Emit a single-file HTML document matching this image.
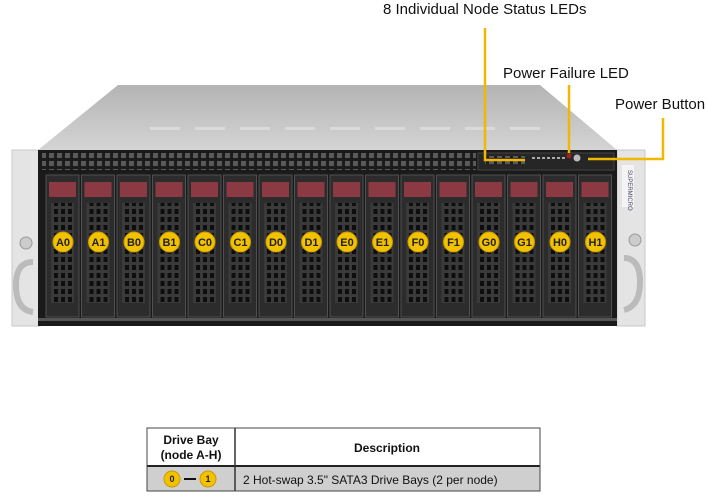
<!DOCTYPE html>
<html><head><meta charset="utf-8"><style>
html,body{margin:0;padding:0;background:#fff;width:706px;height:500px;overflow:hidden;font-family:"Liberation Sans",Arial,sans-serif}
</style></head><body>
<svg width="706" height="500" viewBox="0 0 706 500" xmlns="http://www.w3.org/2000/svg" font-family="Liberation Sans, Arial, sans-serif">
<defs>
<linearGradient id="top" x1="0" y1="0" x2="0" y2="1"><stop offset="0" stop-color="#b4b4b4"/><stop offset="1" stop-color="#d4d4d4"/></linearGradient>
<pattern id="vent" width="8" height="8" patternUnits="userSpaceOnUse"><rect width="8" height="8" fill="#1c1c1c"/><rect x="1" y="1" width="5" height="5" fill="#5a5a5a"/></pattern>
<pattern id="grid" width="7" height="8" patternUnits="userSpaceOnUse"><rect width="7" height="8" fill="#3a3a3a"/><rect x="1" y="1" width="4" height="5" fill="#0e0e0e"/></pattern>
</defs>
<polygon points="118,85 540,85 617,150 38,150" fill="url(#top)"/>
<g fill="#e2e2e2" opacity="0.7">
<rect x="150" y="127" width="30" height="3"/><rect x="195" y="127" width="30" height="3"/><rect x="240" y="127" width="30" height="3"/><rect x="285" y="127" width="30" height="3"/><rect x="330" y="127" width="30" height="3"/><rect x="375" y="127" width="30" height="3"/><rect x="420" y="127" width="30" height="3"/><rect x="465" y="127" width="30" height="3"/><rect x="510" y="127" width="30" height="3"/>
</g>
<rect x="12" y="150" width="28" height="176" fill="#e4e4e4" stroke="#c8c8c8"/>
<rect x="617" y="150" width="28" height="176" fill="#e4e4e4" stroke="#c8c8c8"/>
<circle cx="26" cy="243" r="6" fill="#ccc" stroke="#999"/>
<circle cx="635" cy="240" r="6" fill="#ccc" stroke="#999"/>
<path d="M33 262 Q16 262 16 285 Q16 310 33 312" fill="none" stroke="#bbb" stroke-width="6"/>
<path d="M624 258 Q640 258 640 282 Q640 306 624 310" fill="none" stroke="#bbb" stroke-width="6"/>
<rect x="622" y="165" width="12" height="42" fill="#f4f4f4"/>
<text x="628" y="170" font-size="6" fill="#446" transform="rotate(90 628 170)">SUPERMICRO</text>
<rect x="38" y="150" width="579" height="176" fill="#1a1a1a"/>
<rect x="42" y="153" width="434" height="17" fill="url(#vent)"/>
<rect x="478" y="153" width="136" height="17" fill="#262626" stroke="#444"/>
<rect x="485" y="156" width="40" height="8" fill="url(#vent)"/>
<g fill="#aaa"><rect x="532" y="157" width="3" height="2"/><rect x="537" y="157" width="3" height="2"/><rect x="542" y="157" width="3" height="2"/><rect x="547" y="157" width="3" height="2"/><rect x="552" y="157" width="3" height="2"/><rect x="557" y="157" width="3" height="2"/><rect x="562" y="157" width="3" height="2"/></g>
<circle cx="569" cy="156" r="2.5" fill="#a02020"/>
<circle cx="577" cy="158" r="3.5" fill="#bbb"/>
<rect x="38" y="318" width="579" height="3" fill="#555"/>
<g font-size="11" font-weight="bold" text-anchor="middle" fill="#222">
<g transform="translate(46,0)"><rect x="0" y="175" width="33" height="142" fill="#2c2c2c" stroke="#505050"/><rect x="3" y="182" width="27" height="15" fill="#8b3a44"/><rect x="5" y="203" width="23" height="100" fill="url(#grid)"/><circle cx="17" cy="242" r="10" fill="#f2c200" stroke="#c99a00"/><text x="17" y="246">A0</text></g>
<g transform="translate(81.5,0)"><rect x="0" y="175" width="33" height="142" fill="#2c2c2c" stroke="#505050"/><rect x="3" y="182" width="27" height="15" fill="#8b3a44"/><rect x="5" y="203" width="23" height="100" fill="url(#grid)"/><circle cx="17" cy="242" r="10" fill="#f2c200" stroke="#c99a00"/><text x="17" y="246">A1</text></g>
<g transform="translate(117,0)"><rect x="0" y="175" width="33" height="142" fill="#2c2c2c" stroke="#505050"/><rect x="3" y="182" width="27" height="15" fill="#8b3a44"/><rect x="5" y="203" width="23" height="100" fill="url(#grid)"/><circle cx="17" cy="242" r="10" fill="#f2c200" stroke="#c99a00"/><text x="17" y="246">B0</text></g>
<g transform="translate(152.5,0)"><rect x="0" y="175" width="33" height="142" fill="#2c2c2c" stroke="#505050"/><rect x="3" y="182" width="27" height="15" fill="#8b3a44"/><rect x="5" y="203" width="23" height="100" fill="url(#grid)"/><circle cx="17" cy="242" r="10" fill="#f2c200" stroke="#c99a00"/><text x="17" y="246">B1</text></g>
<g transform="translate(188,0)"><rect x="0" y="175" width="33" height="142" fill="#2c2c2c" stroke="#505050"/><rect x="3" y="182" width="27" height="15" fill="#8b3a44"/><rect x="5" y="203" width="23" height="100" fill="url(#grid)"/><circle cx="17" cy="242" r="10" fill="#f2c200" stroke="#c99a00"/><text x="17" y="246">C0</text></g>
<g transform="translate(223.5,0)"><rect x="0" y="175" width="33" height="142" fill="#2c2c2c" stroke="#505050"/><rect x="3" y="182" width="27" height="15" fill="#8b3a44"/><rect x="5" y="203" width="23" height="100" fill="url(#grid)"/><circle cx="17" cy="242" r="10" fill="#f2c200" stroke="#c99a00"/><text x="17" y="246">C1</text></g>
<g transform="translate(259,0)"><rect x="0" y="175" width="33" height="142" fill="#2c2c2c" stroke="#505050"/><rect x="3" y="182" width="27" height="15" fill="#8b3a44"/><rect x="5" y="203" width="23" height="100" fill="url(#grid)"/><circle cx="17" cy="242" r="10" fill="#f2c200" stroke="#c99a00"/><text x="17" y="246">D0</text></g>
<g transform="translate(294.5,0)"><rect x="0" y="175" width="33" height="142" fill="#2c2c2c" stroke="#505050"/><rect x="3" y="182" width="27" height="15" fill="#8b3a44"/><rect x="5" y="203" width="23" height="100" fill="url(#grid)"/><circle cx="17" cy="242" r="10" fill="#f2c200" stroke="#c99a00"/><text x="17" y="246">D1</text></g>
<g transform="translate(330,0)"><rect x="0" y="175" width="33" height="142" fill="#2c2c2c" stroke="#505050"/><rect x="3" y="182" width="27" height="15" fill="#8b3a44"/><rect x="5" y="203" width="23" height="100" fill="url(#grid)"/><circle cx="17" cy="242" r="10" fill="#f2c200" stroke="#c99a00"/><text x="17" y="246">E0</text></g>
<g transform="translate(365.5,0)"><rect x="0" y="175" width="33" height="142" fill="#2c2c2c" stroke="#505050"/><rect x="3" y="182" width="27" height="15" fill="#8b3a44"/><rect x="5" y="203" width="23" height="100" fill="url(#grid)"/><circle cx="17" cy="242" r="10" fill="#f2c200" stroke="#c99a00"/><text x="17" y="246">E1</text></g>
<g transform="translate(401,0)"><rect x="0" y="175" width="33" height="142" fill="#2c2c2c" stroke="#505050"/><rect x="3" y="182" width="27" height="15" fill="#8b3a44"/><rect x="5" y="203" width="23" height="100" fill="url(#grid)"/><circle cx="17" cy="242" r="10" fill="#f2c200" stroke="#c99a00"/><text x="17" y="246">F0</text></g>
<g transform="translate(436.5,0)"><rect x="0" y="175" width="33" height="142" fill="#2c2c2c" stroke="#505050"/><rect x="3" y="182" width="27" height="15" fill="#8b3a44"/><rect x="5" y="203" width="23" height="100" fill="url(#grid)"/><circle cx="17" cy="242" r="10" fill="#f2c200" stroke="#c99a00"/><text x="17" y="246">F1</text></g>
<g transform="translate(472,0)"><rect x="0" y="175" width="33" height="142" fill="#2c2c2c" stroke="#505050"/><rect x="3" y="182" width="27" height="15" fill="#8b3a44"/><rect x="5" y="203" width="23" height="100" fill="url(#grid)"/><circle cx="17" cy="242" r="10" fill="#f2c200" stroke="#c99a00"/><text x="17" y="246">G0</text></g>
<g transform="translate(507.5,0)"><rect x="0" y="175" width="33" height="142" fill="#2c2c2c" stroke="#505050"/><rect x="3" y="182" width="27" height="15" fill="#8b3a44"/><rect x="5" y="203" width="23" height="100" fill="url(#grid)"/><circle cx="17" cy="242" r="10" fill="#f2c200" stroke="#c99a00"/><text x="17" y="246">G1</text></g>
<g transform="translate(543,0)"><rect x="0" y="175" width="33" height="142" fill="#2c2c2c" stroke="#505050"/><rect x="3" y="182" width="27" height="15" fill="#8b3a44"/><rect x="5" y="203" width="23" height="100" fill="url(#grid)"/><circle cx="17" cy="242" r="10" fill="#f2c200" stroke="#c99a00"/><text x="17" y="246">H0</text></g>
<g transform="translate(578.5,0)"><rect x="0" y="175" width="33" height="142" fill="#2c2c2c" stroke="#505050"/><rect x="3" y="182" width="27" height="15" fill="#8b3a44"/><rect x="5" y="203" width="23" height="100" fill="url(#grid)"/><circle cx="17" cy="242" r="10" fill="#f2c200" stroke="#c99a00"/><text x="17" y="246">H1</text></g>
</g>
<g fill="none" stroke="#f0b800" stroke-width="2.5">
<polyline points="485,28 485,160 525,160"/>
<polyline points="569,85 569,153"/>
<polyline points="663,118 663,159 588,159"/>
</g>
<g font-size="15" fill="#111">
<text x="383" y="14">8 Individual  Node Status LEDs</text>
<text x="503" y="78">Power Failure LED</text>
<text x="615" y="109">Power Button</text>
</g>
<rect x="147" y="428" width="393" height="63" fill="#fff" stroke="#555" stroke-width="1"/>
<rect x="147" y="467" width="393" height="24" fill="#cfcfcf"/>
<line x1="147" y1="466" x2="540" y2="466" stroke="#222" stroke-width="2"/>
<line x1="235" y1="428" x2="235" y2="491" stroke="#333" stroke-width="1.5"/>
<rect x="147" y="428" width="393" height="63" fill="none" stroke="#444" stroke-width="1"/>
<g font-size="12" font-weight="bold" fill="#111" text-anchor="middle">
<text x="191" y="444">Drive Bay</text>
<text x="191" y="459">(node A-H)</text>
<text x="387" y="452">Description</text>
</g>
<circle cx="172" cy="479" r="8" fill="#f2c200" stroke="#c99a00"/>
<circle cx="208" cy="479" r="8" fill="#f2c200" stroke="#c99a00"/>
<line x1="184" y1="479" x2="196" y2="479" stroke="#111" stroke-width="2"/>
<g font-size="9" font-weight="bold" text-anchor="middle" fill="#222"><text x="172" y="482">0</text><text x="208" y="482">1</text></g>
<text x="243" y="484" font-size="12" fill="#111">2 Hot-swap  3.5" SATA3 Drive  Bays (2 per node)</text>
</svg>
</body></html>
